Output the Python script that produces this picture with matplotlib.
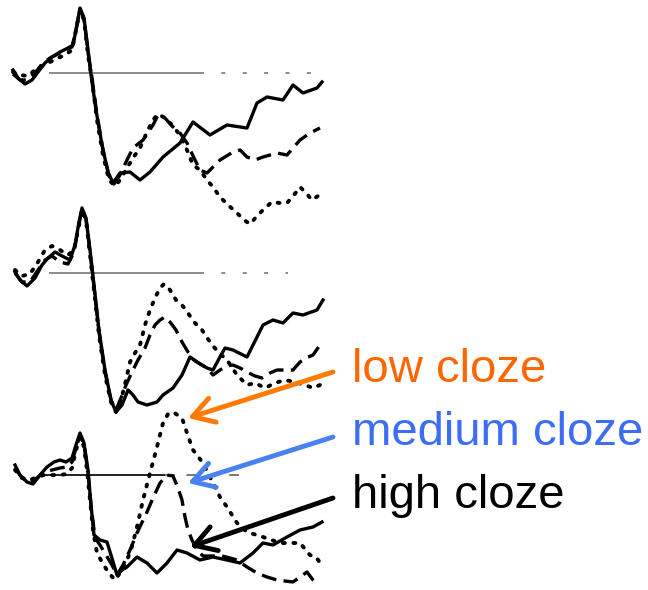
import matplotlib.pyplot as plt

# ERP waveforms, three panels (time in ms, amplitude in uV, up = positive)
p1_solid_t = [-148, -128, -100, -72, -48, -20, 8, 40, 72, 92, 104, 120, 136, 152, 164, 184, 208, 232, 252,
              280, 320, 360, 400, 452, 520, 572, 640, 708, 788, 828, 868, 932, 972, 1012, 1068, 1088]
p1_solid_v = [0.3, -0.5, -1.1, -0.7, 0.1, 1.0, 1.6, 2.1, 2.5, 2.8, 4.3, 6.5, 5.5, 2.3, -0.2, -3.7, -7.2, -9.9, -11.0,
              -10.0, -9.9, -10.7, -9.9, -8.4, -7.0, -4.9, -6.2, -5.2, -5.5, -3.0, -2.4, -2.7, -1.2, -2.0, -1.5, -0.9]

p1_dash_t = [-148, -120, -92, -60, -32, 0, 32, 64, 88, 104, 120, 136, 152, 168, 188, 212, 236, 256, 280, 308,
             332, 372, 412, 432, 460, 488, 520, 548, 576, 600, 628, 656, 680, 732, 760, 788, 820, 852, 908, 948,
             1000, 1040, 1080]
p1_dash_v = [-0.1, -0.7, -0.7, 0.0, 0.9, 1.5, 1.9, 2.3, 2.6, 4.3, 6.4, 5.4, 2.1, -0.5, -4.2, -7.7, -10.3, -11.1,
             -10.2, -8.7, -7.5, -6.7, -5.2, -4.2, -4.5, -5.3, -6.0, -7.0, -8.5, -9.7, -10.0, -9.3, -8.7, -7.9,
             -7.7, -8.4, -8.7, -8.4, -8.0, -8.2, -6.7, -6.0, -5.5]

p1_dot_t = [-148, -120, -88, -60, -32, 0, 32, 60, 88, 104, 120, 136, 152, 168, 188, 212, 236, 260, 280, 308,
            332, 360, 388, 412, 432, 460, 488, 520, 548, 572, 600, 628, 652, 680, 712, 748, 776, 800, 832, 860,
            888, 920, 948, 976, 1000, 1024, 1048, 1072, 1092]
p1_dot_v = [0.1, -0.2, -0.3, 0.3, 0.7, 1.1, 1.5, 1.8, 2.3, 4.3, 6.3, 5.3, 1.8, -0.7, -4.7, -8.2, -10.7, -11.3,
            -10.7, -9.5, -8.5, -7.5, -5.9, -4.7, -4.1, -4.5, -5.2, -6.2, -7.7, -9.2, -9.7, -10.7, -11.4, -12.4,
            -13.2, -14.0, -14.7, -15.1, -14.2, -13.5, -12.9, -13.0, -13.0, -12.2, -11.4, -12.0, -12.7, -12.3, -11.9]

p2_solid_t = [-140, -120, -92, -60, -32, -8, 20, 48, 80, 100, 116, 128, 144, 160, 176, 196, 220, 244, 264, 288,
              312, 332, 352, 388, 428, 452, 492, 528, 560, 588, 628, 652, 680, 700, 732, 788, 828, 852, 892, 932,
              972, 1012, 1068, 1092]
p2_solid_v = [0.1, -0.7, -1.3, -0.5, 0.8, 1.5, 2.1, 1.7, 1.3, 2.8, 5.1, 6.5, 5.5, 2.3, -1.2, -5.7, -9.7, -12.7,
              -13.9, -13.2, -11.7, -12.2, -12.9, -13.2, -12.9, -12.2, -11.5, -10.2, -8.4, -8.9, -9.5, -9.7, -8.4,
              -7.5, -7.7, -8.4, -6.4, -5.2, -4.7, -5.0, -4.0, -4.2, -3.7, -2.7]

p2_dash_t = [-140, -112, -80, -48, -20, 8, 40, 72, 96, 116, 128, 144, 160, 176, 196, 220, 244, 264, 284, 304,
             328, 352, 380, 400, 420, 440, 460, 480, 504, 528, 552, 576, 600, 628, 652, 680, 708, 732, 760, 788,
             820, 848, 880, 908, 940, 972, 1000, 1024, 1052, 1080]
p2_dash_v = [0.0, -0.9, -0.9, 0.3, 1.3, 1.7, 1.1, 0.9, 2.1, 4.9, 6.4, 5.4, 2.1, -1.4, -5.9, -9.9, -12.7, -13.7,
             -12.5, -11.2, -9.9, -8.7, -7.5, -6.2, -5.2, -4.7, -4.4, -4.9, -5.7, -6.9, -7.9, -8.7, -9.1, -9.5,
             -10.2, -9.7, -9.3, -9.2, -9.5, -9.9, -10.3, -10.5, -10.0, -9.7, -9.7, -9.7, -8.9, -8.5, -8.2, -7.2]

p2_dot_t = [-140, -112, -80, -48, -20, 8, 40, 72, 96, 116, 128, 144, 160, 176, 196, 220, 244, 264, 284, 304,
            320, 340, 360, 380, 400, 420, 440, 456, 480, 504, 528, 552, 576, 608, 640, 672, 708, 748, 788, 820,
            860, 900, 940, 980, 1020, 1052, 1080]
p2_dot_v = [0.3, -0.3, -0.1, 1.1, 2.3, 2.7, 2.3, 1.8, 2.3, 4.8, 6.3, 5.3, 1.8, -1.7, -6.2, -10.2, -12.9, -13.9,
            -12.7, -10.7, -8.9, -8.0, -7.2, -5.2, -3.7, -2.5, -1.5, -1.1, -1.7, -2.7, -3.2, -4.0, -4.9, -5.7,
            -6.9, -7.9, -8.7, -10.2, -11.2, -11.0, -11.5, -11.0, -10.7, -10.9, -11.2, -11.5, -11.2]

p3_solid_t = [-140, -120, -92, -68, -40, -12, 16, 40, 64, 88, 104, 120, 136, 152, 164, 176, 200, 228, 244, 268,
              288, 308, 348, 388, 428, 468, 508, 548, 600, 652, 708, 760, 812, 852, 892, 948, 1000, 1052, 1088]
p3_solid_v = [1.0, 0.0, -0.7, -0.9, 0.0, 0.8, 1.3, 1.5, 1.3, 1.7, 3.0, 4.2, 3.2, 0.5, -3.0, -6.0, -6.5, -6.7,
              -8.0, -10.0, -9.5, -9.2, -8.2, -8.8, -9.8, -8.8, -7.5, -7.8, -8.5, -8.2, -8.5, -8.8, -7.8, -6.8,
              -7.0, -6.2, -5.5, -5.2, -4.7]

p3_dash_t = [-140, -112, -80, -52, -24, 8, 40, 68, 88, 104, 120, 136, 152, 164, 180, 200, 224, 248, 268, 292,
             320, 348, 388, 412, 440, 468, 492, 512, 528, 540, 552, 568, 588, 612, 652, 688, 720, 748, 788, 828,
             868, 908, 972, 1000, 1028, 1052, 1072]
p3_dash_v = [0.7, -0.3, -0.7, -0.3, 0.3, 0.5, 0.7, 0.8, 1.3, 2.7, 4.0, 3.0, 0.3, -3.0, -6.3, -7.0, -8.0, -9.0,
             -10.0, -9.0, -7.5, -5.8, -3.7, -2.3, -0.8, 0.0, -0.1, -1.3, -2.5, -4.2, -5.5, -6.5, -7.5, -8.1, -8.1,
             -8.1, -8.3, -8.5, -9.2, -9.8, -10.2, -10.5, -10.7, -10.2, -9.7, -10.5, -11.0]

p3_dot_t = [-140, -112, -80, -52, -24, 8, 40, 68, 88, 104, 120, 136, 148, 160, 172, 188, 208, 232, 260, 288,
            308, 324, 348, 372, 400, 428, 452, 472, 492, 528, 548, 572, 612, 652, 680, 708, 748, 788, 852, 920,
            1000, 1040, 1064, 1092]
p3_dot_v = [0.5, -0.3, -0.5, -0.2, 0.0, 0.0, 0.0, 0.1, 0.7, 2.5, 3.8, 2.8, 0.5, -2.5, -5.5, -7.8, -8.7, -9.7,
            -10.5, -9.5, -8.5, -7.5, -5.2, -2.5, 0.2, 2.8, 5.2, 6.1, 6.3, 5.7, 4.2, 2.5, 1.2, -0.8, -2.2, -3.2,
            -4.8, -5.7, -6.2, -6.8, -6.8, -8.0, -8.2, -9.2]

panels = [
    (p1_solid_t, p1_solid_v, p1_dash_t, p1_dash_v, p1_dot_t, p1_dot_v),
    (p2_solid_t, p2_solid_v, p2_dash_t, p2_dash_v, p2_dot_t, p2_dot_v),
    (p3_solid_t, p3_solid_v, p3_dash_t, p3_dash_v, p3_dot_t, p3_dot_v),
]

labels = ["low cloze", "medium cloze", "high cloze"]
label_colors = ["#FF6600", "#3D6DF5", "#000000"]
arrow_colors = ["#FF7A00", "#4A80F0", "#000000"]

# where each baseline sits in the picture (pixels from the top)
base_px = [73, 273, 475]

W, H = 648, 590
fig = plt.figure(figsize=(W / 100, H / 100), dpi=100)

axes = []
for i, (st, sv, dt, dv, ot, ov) in enumerate(panels):
    ax = fig.add_axes([0, 0, 1, 1], facecolor="none")
    ax.set_xlim(-200, (W - 50) * 4)
    ax.set_ylim((base_px[i] - H) / 10, base_px[i] / 10)
    ax.axis("off")

    # zero lines
    if i < 2:
        ax.plot([0, 600], [0, 0], color="#888888", lw=1.4)
        ax.plot([600, 1070 if i == 0 else 950], [0, 0], color="#888888", lw=1.4,
                linestyle=(0, (2, 9)))
    else:
        ax.plot([-20, 460], [0, 0], color="#222222", lw=1.4)
        ax.plot([460, 800], [0, 0], color="#777777", lw=1.4, linestyle=(0, (5, 6)))

    ax.plot(st, sv, color="black", lw=2.4, solid_joinstyle="round")
    ax.plot(dt, dv, color="black", lw=2.4, linestyle=(0, (4.5, 2.2)))
    ax.plot(ot, ov, color="black", lw=2.8, linestyle=(0, (0.5, 2.2)), dash_capstyle="round")
    axes.append(ax)

ax3 = axes[2]
tips = [(552, 5.7), (552, -0.8), (560, -7.2)]
tails_px = [(333, 372), (333, 437), (333, 498)]
text_base_px = [382, 445, 508]

for lab, tc, ac, tip, tail, tb in zip(labels, label_colors, arrow_colors, tips, tails_px, text_base_px):
    ax3.annotate("", xy=tip, xycoords="data",
                 xytext=(tail[0] / W, 1 - tail[1] / H), textcoords="figure fraction",
                 arrowprops=dict(arrowstyle="->,head_length=0.75,head_width=0.45",
                                 mutation_scale=20, lw=3.5, color=ac,
                                 shrinkA=0, shrinkB=0))
    fig.text(352 / W, 1 - tb / H, lab, color=tc, fontsize=34,
             family="Liberation Sans", va="baseline", ha="left")

fig.savefig("out.png", dpi=100)
